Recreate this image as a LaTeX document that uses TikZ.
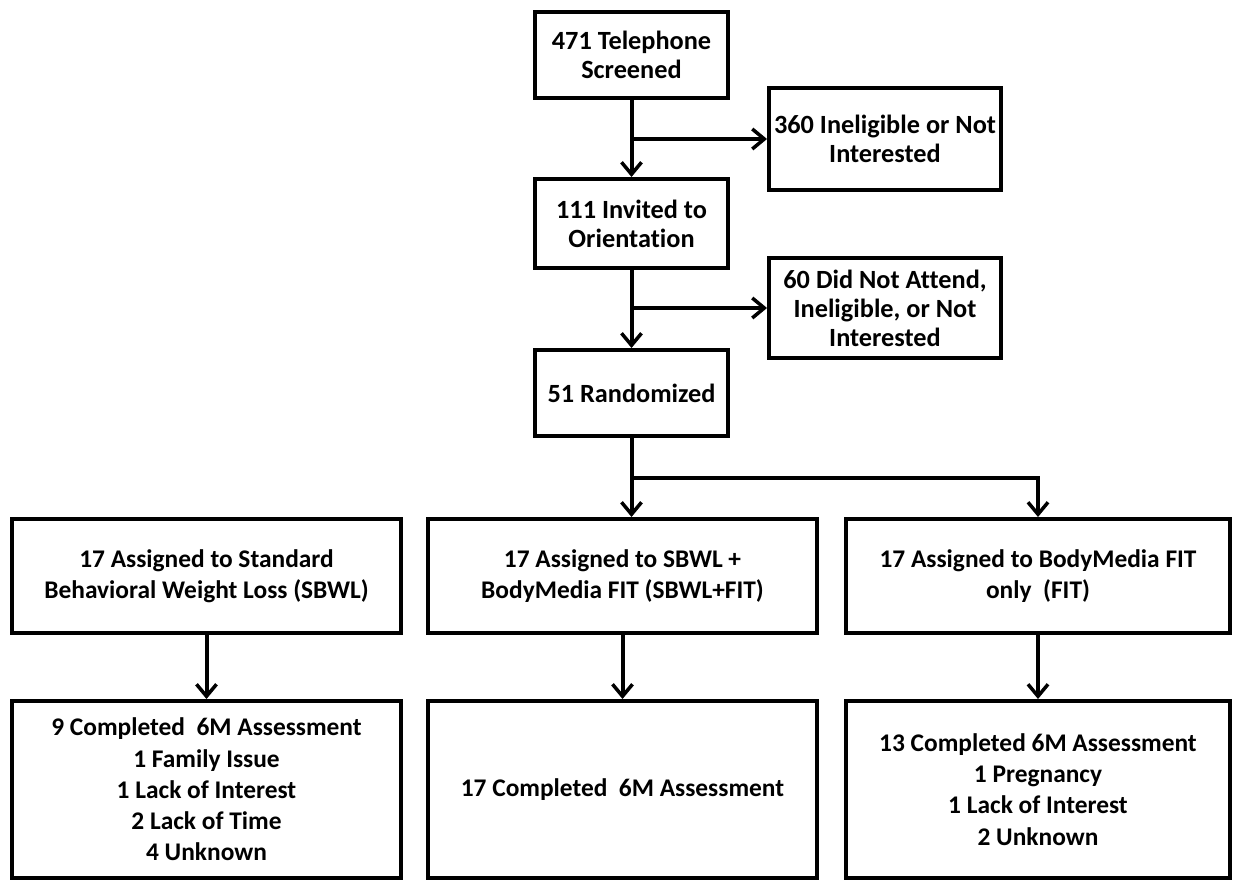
\documentclass[tikz,border=0pt]{standalone}
\usepackage{fontspec}
\setmainfont{Carlito}[Ligatures=NoCommon]
\usetikzlibrary{arrows.meta}
\begin{document}
\begin{tikzpicture}[x=1pt,y=-1pt,
  box/.style={draw, line width=4pt, align=center, inner sep=0pt,
    font=\bfseries\fontsize{26.3}{29}\selectfont},
  bbox/.style={box, font=\bfseries\fontsize{25.4}{31.3}\selectfont},
  arr/.style={line width=4pt, -{Straight Barb[length=12pt,width=20pt,line width=3.5pt]}}]
\useasboundingbox (0,0) rectangle (1234,882);
\node[box, minimum width=193pt, minimum height=86pt] (b1) at (631.5,55) {471 Telephone\\Screened};
\node[box, minimum width=232pt, minimum height=102pt] (b360) at (885,139) {360 Ineligible or Not\\Interested};
\node[box, minimum width=193pt, minimum height=89pt] (b111) at (631.5,223.5) {111 Invited to\\Orientation};
\node[box, minimum width=232pt, minimum height=100pt] (b60) at (885,308) {60 Did Not Attend,\\Ineligible, or Not\\Interested};
\node[box, minimum width=193pt, minimum height=86pt] (b51) at (631.5,393) {51 Randomized};
\node[bbox, minimum width=389pt, minimum height=114pt] (l1) at (206.5,576) {17 Assigned to Standard\\Behavioral Weight Loss (SBWL)};
\node[bbox, minimum width=389pt, minimum height=114pt] (m1) at (622.5,576) {17 Assigned to SBWL +\\BodyMedia FIT (SBWL+FIT)};
\node[bbox, minimum width=384pt, minimum height=114pt] (r1) at (1038,576) {17 Assigned to BodyMedia FIT\\only\ \ (FIT)};
\node[bbox, minimum width=389pt, minimum height=177pt] (l2) at (206.5,789.5) {9 Completed\ \ 6M Assessment\\1 Family Issue\\1 Lack of Interest\\2 Lack of Time\\4 Unknown};
\node[bbox, minimum width=389pt, minimum height=177pt] (m2) at (622.5,789.5) {17 Completed\ \ 6M Assessment};
\node[bbox, minimum width=384pt, minimum height=177pt] (r2) at (1038,789.5) {13 Completed 6M Assessment\\1 Pregnancy\\1 Lack of Interest\\2 Unknown};
\coordinate (j1) at (b1.south |- b360.west);
\coordinate (j2) at (b111.south |- b60.west);
\coordinate (j3) at (631.5,478);
\draw[arr] (b1.south) -- (b111.north);
\draw[arr] (j1) -- (b360.west);
\draw[arr] (b111.south) -- (b51.north);
\draw[arr] (j2) -- (b60.west);
\draw[arr] (b51.south) -- (b51.south |- m1.north);
\draw[arr] (j3) -- (j3 -| r1.north) -- (r1.north);
\draw[arr] (l1.south) -- (l2.north);
\draw[arr] (m1.south) -- (m2.north);
\draw[arr] (r1.south) -- (r2.north);
\end{tikzpicture}
\end{document}
